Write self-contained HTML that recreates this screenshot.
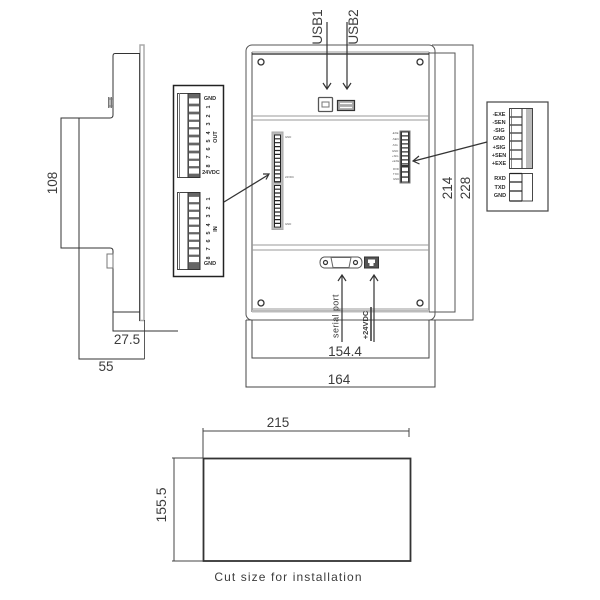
<!DOCTYPE html>
<html><head><meta charset="utf-8"><style>
html,body{margin:0;padding:0;background:#fff}
svg{display:block;filter:blur(0.3px)}
text{font-family:"Liberation Sans",sans-serif;fill:#3c3c3c}
.l{font-size:13.5px;text-anchor:middle}
.t{font-size:5.5px;font-weight:bold;text-anchor:middle;fill:#2a2a2a}
.s{font-size:2.8px;fill:#555}
</style></head><body>
<svg width="600" height="600" viewBox="0 0 600 600" xmlns="http://www.w3.org/2000/svg">
<g fill="none" stroke="#333" stroke-width="1">
<!-- side view -->
<rect x="140" y="45" width="4" height="275.500" stroke="#aaa" stroke-width="1.500"/>
<path d="M139.500 54V321M144.500 320V359" stroke="#333" stroke-width="0.800"/>
<path d="M140 53.500H115Q113 53.500 113 56V115Q113 118 110 118H61V248H110Q113 248 113 251V312H140"/>
<path d="M79 118V359H144.500M113 312V331H178"/>
<rect x="107" y="254" width="6" height="14" stroke="#777"/>
<path d="M108.500 97V108M110 97V108M111.500 97V108M108 99H113M108 106H113" stroke="#777"/>
<!-- panel outline -->
<rect x="246" y="45" width="189" height="275" rx="6" stroke="#555"/>
<path d="M252 52V312M429 52V312" stroke="#888" stroke-width="1.500"/>
<path d="M252 54H429" stroke="#222" stroke-width="1.200"/>
<path d="M252 52H429M252 116H429M252 120H429M252 245H429M252 250H429M252 309H429" stroke="#999" stroke-width="1"/>
<rect x="252" y="310" width="177" height="2.500" fill="#bbb" stroke="none"/>
<circle cx="261" cy="62" r="3" stroke-width="1.300"/>
<circle cx="420" cy="62" r="3" stroke-width="1.300"/>
<circle cx="261" cy="303" r="3" stroke-width="1.300"/>
<circle cx="420" cy="303" r="3" stroke-width="1.300"/>
<!-- dims panel -->
<path d="M429 53H455V312H429M432 45H473V320H246" stroke="#555"/>
<path d="M246 320V387H435V320M252 320V358H429V320" stroke="#444"/>
<!-- usb -->
<path d="M327 22V88M323 83L327 89L331 83M347 22V88M343 83L347 89L351 83" stroke-width="1.200"/>
<rect x="318.500" y="97.500" width="14" height="14" rx="1" stroke="#555" stroke-width="1.300"/>
<rect x="322" y="102" width="7" height="5" stroke="#777"/>
<rect x="337.500" y="100.500" width="17" height="10" fill="#aaa" stroke="#333" stroke-width="1.200"/>
<path d="M340 103.500H352M340 107.500H352" stroke="#fff" stroke-width="1.300"/>
<!-- serial + power -->
<path d="M324 257H358Q362 258 362 262.500Q362 267 358 268H324Q320 267 320 262.500Q320 258 324 257Z" stroke="#555"/>
<path d="M331 257.500H351L349 267.500H333Z" stroke="#666"/>
<circle cx="325.500" cy="262.500" r="2" stroke-width="1.200"/><circle cx="355.500" cy="262.500" r="2" stroke-width="1.200"/>
<rect x="364.500" y="257" width="14" height="11" fill="#555" stroke="#333"/>
<path d="M368 259.500H375V263H373.500V266H369.500V263H368Z" fill="#fff" stroke="none"/>
<path d="M342 342V276M338 281L342 275L346 281M374 342V276M370 281L374 275L378 281" stroke-width="1.200"/>
<path d="M371 307V341" stroke-width="1.500"/>
<!-- left box -->
<rect x="173.500" y="85.500" width="50" height="191" stroke="#222" stroke-width="1.500"/>
<rect x="177.500" y="93.500" width="22.500" height="84" stroke-width="0.900"/>
<rect x="177.500" y="192.500" width="22.500" height="77" stroke-width="0.900"/>
<path d="M179.500 93V177M179.500 192V269" stroke="#777"/>
<rect x="188" y="93.500" width="12" height="84" fill="#666"/>
<rect x="188" y="192.500" width="12" height="77" fill="#666"/>
<path d="M189 101H199M189 109H199M189 117H199M189 124.500H199M189 132H199M189 140H199M189 148H199M189 156H199M189 163.500H199M189 171H199M189 199.500H199M189 207H199M189 214.500H199M189 222H199M189 229.500H199M189 237H199M189 244.500H199M189 252H199M189 259.500H199" stroke="#fff" stroke-width="5.200"/>
<path d="M224 202L268 175" stroke-width="1.300"/>
<path d="M263 174L269 174L266 179.500" stroke-width="1.200"/>
<!-- left strip -->
<rect x="272" y="132" width="11" height="97.500" fill="#bbb" stroke="#aaa"/>
<rect x="274" y="134.500" width="7" height="48" fill="#222" stroke="none"/>
<rect x="274" y="185" width="7" height="42.500" fill="#222" stroke="none"/>
<path d="M277.500 135.500V182" stroke="#fff" stroke-width="5" stroke-dasharray="2.700 1.200"/>
<path d="M277.500 186V227" stroke="#fff" stroke-width="5" stroke-dasharray="2.600 1.200"/>
<!-- right box -->
<rect x="487" y="102" width="61" height="109" stroke="#444" stroke-width="1.200"/>
<rect x="509.500" y="108.500" width="23" height="60" fill="#bbb" stroke-width="0.900"/>
<rect x="510" y="109" width="16" height="59" fill="#fff" stroke="none"/>
<path d="M522 108.500V168.500" stroke="#333"/>
<path d="M510 117H522M510 125H522M510 133H522M510 141H522M510 150H522M510 159H522" stroke="#333" stroke-width="1.300"/>
<path d="M511.500 108V168" stroke="#555" stroke-width="0.700"/>
<rect x="509.500" y="173.500" width="23" height="27.500" stroke-width="0.900"/>
<path d="M522 173V201" stroke="#333"/>
<path d="M510 173.500H522M510 182H522M510 191H522M510 201H522" stroke="#222" stroke-width="1.200"/>
<path d="M487 142L414 161" stroke-width="1.300"/>
<path d="M419 156L413 161L419.500 164" stroke-width="1.200"/>
<!-- right strip -->
<rect x="400" y="131" width="10" height="52" fill="#333" stroke="#777"/>
<path d="M405 132.500V165" stroke="#fff" stroke-width="6" stroke-dasharray="2.800 1.200"/>
<path d="M405 167.500V183" stroke="#fff" stroke-width="6" stroke-dasharray="3.800 1.300"/>
<!-- cut -->
<rect x="203.500" y="458.500" width="207" height="102.500" stroke="#333" stroke-width="1.800"/>
<path d="M203 431H409M203 428V458M409 428V437M174 458V561M172 458H203M172 561H203" stroke="#444"/>
</g>
<!-- dimension text -->
<text class="l" x="127" y="344">27.5</text>
<text class="l" x="106" y="371">55</text>
<text class="l" transform="translate(57,183) rotate(-90)">108</text>
<text class="l" transform="translate(322,27) rotate(-90)">USB1</text>
<text class="l" transform="translate(358,27) rotate(-90)">USB2</text>
<text class="l" transform="translate(452,188) rotate(-90)">214</text>
<text class="l" transform="translate(470,188) rotate(-90)">228</text>
<text class="l" x="345" y="356">154.4</text>
<text class="l" x="339" y="384">164</text>
<text class="l" style="font-size:9px;letter-spacing:.4px" transform="translate(338.500,316) rotate(-90)">serial port</text>
<text class="l" style="font-size:7.500px;font-weight:bold" transform="translate(368,325) rotate(-90)">+24VDC</text>
<text class="l" x="278" y="427">215</text>
<text class="l" style="font-size:14px" transform="translate(166,505) rotate(-90)">155.5</text>
<text class="l" style="font-size:12px;letter-spacing:1.100px" x="288.500" y="581">Cut size for installation</text>
<!-- left box labels -->
<text class="t" x="210" y="100">GND</text>
<text class="t" transform="translate(210,107) rotate(-90)">1</text>
<text class="t" transform="translate(210,116) rotate(-90)">2</text>
<text class="t" transform="translate(210,124) rotate(-90)">3</text>
<text class="t" transform="translate(210,133) rotate(-90)">4</text>
<text class="t" transform="translate(210,141) rotate(-90)">5</text>
<text class="t" transform="translate(210,149) rotate(-90)">6</text>
<text class="t" transform="translate(210,157) rotate(-90)">7</text>
<text class="t" transform="translate(210,166) rotate(-90)">8</text>
<text class="t" transform="translate(217,137) rotate(-90)">OUT</text>
<text class="t" x="211" y="174">24VDC</text>
<text class="t" transform="translate(210,199) rotate(-90)">1</text>
<text class="t" transform="translate(210,208) rotate(-90)">2</text>
<text class="t" transform="translate(210,216) rotate(-90)">3</text>
<text class="t" transform="translate(210,225) rotate(-90)">4</text>
<text class="t" transform="translate(210,233) rotate(-90)">5</text>
<text class="t" transform="translate(210,241) rotate(-90)">6</text>
<text class="t" transform="translate(210,249) rotate(-90)">7</text>
<text class="t" transform="translate(210,258) rotate(-90)">8</text>
<text class="t" transform="translate(217,229) rotate(-90)">IN</text>
<text class="t" x="210" y="265">GND</text>
<!-- right box labels -->
<text class="t" x="499" y="116">-EXE</text>
<text class="t" x="499" y="124">-SEN</text>
<text class="t" x="499" y="132">-SIG</text>
<text class="t" x="499" y="140">GND</text>
<text class="t" x="499" y="149">+SIG</text>
<text class="t" x="499" y="157">+SEN</text>
<text class="t" x="499" y="165">+EXE</text>
<text class="t" x="500" y="180">RXD</text>
<text class="t" x="500" y="189">TXD</text>
<text class="t" x="500" y="197">GND</text>
<!-- strip micro labels -->
<text class="s" x="285" y="138">GND</text>
<text class="s" x="285" y="178">24VDC</text>
<text class="s" x="285" y="225">GND</text>
<text class="s" x="392" y="134">-EXE</text>
<text class="s" x="392" y="140">-SEN</text>
<text class="s" x="392" y="146">-SIG</text>
<text class="s" x="392" y="152">GND</text>
<text class="s" x="392" y="157">+SIG</text>
<text class="s" x="392" y="162">+EXE</text>
<text class="s" x="393" y="170">RXD</text>
<text class="s" x="393" y="175">TXD</text>
<text class="s" x="393" y="180">GND</text>
</svg>
</body></html>
